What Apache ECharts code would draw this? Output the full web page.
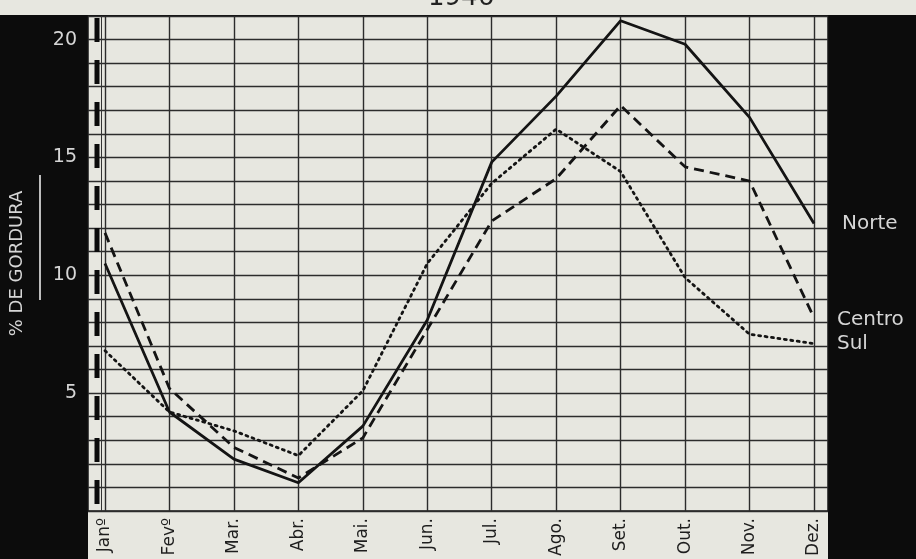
<!DOCTYPE html>
<html>
<head>
<meta charset="utf-8">
<script src="https://cdn.jsdelivr.net/npm/echarts@6/dist/echarts.min.js"></script>
<style>
  html, body { margin: 0; padding: 0; background: #0c0c0c; }
  #main { width: 916px; height: 559px; }
</style>
</head>
<body>
<div id="main"></div>
<script>
var meses = ['Janº', 'Fevº', 'Mar.', 'Abr.', 'Mai.', 'Jun.', 'Jul.', 'Ago.', 'Set.', 'Out.', 'Nov.', 'Dez.'];
var norte  = [10.5, 4.2, 2.2, 1.2, 3.6, 8.1, 14.8, 17.6, 20.8, 19.8, 16.7, 12.2];
var centro = [11.8, 5.2, 2.7, 1.4, 3.1, 7.7, 12.3, 14.1, 17.2, 14.6, 14.0, 8.2];
var sul    = [6.8, 4.2, 3.4, 2.35, 5.1, 10.5, 13.9, 16.2, 14.4, 9.9, 7.5, 7.1];
var rotulosY = [5, 10, 15, 20];

var papel = '#e7e7e0';
var tinta = '#141414';

var myChart = echarts.init(document.getElementById('main'));

var option = {
  backgroundColor: '#0c0c0c',
  animation: false,
  title: {
    text: '1946',
    left: 428,
    top: -15,
    padding: 0,
    textStyle: { color: '#222', fontSize: 26, fontWeight: 'normal', fontFamily: 'DejaVu Sans' }
  },
  graphic: [
    { type: 'rect', z: -5, shape: { x: 0, y: 0, width: 916, height: 15 }, style: { fill: papel } },
    { type: 'rect', z: -5, shape: { x: 88, y: 511, width: 740, height: 48 }, style: { fill: papel } },
    // barra tracejada grossa a esquerda
    { type: 'line', z: 5, shape: { x1: 97, y1: 18, x2: 97, y2: 510 },
      style: { stroke: '#0c0c0c', lineWidth: 5, lineDash: [24, 18] } },
    { type: 'line', z: 5, shape: { x1: 101.5, y1: 16, x2: 101.5, y2: 511 },
      style: { stroke: '#333', lineWidth: 1 } },
    // sublinhado do titulo do eixo
    { type: 'line', shape: { x1: 40, y1: 175, x2: 40, y2: 300 },
      style: { stroke: '#bdbdbd', lineWidth: 2 } }
  ],
  grid: [
    { left: 88, right: 88, top: 16, bottom: 48, show: true, backgroundColor: papel,
      borderColor: tinta, borderWidth: 1.5 },
    { left: 105, right: 102, top: 16, bottom: 48 }
  ],
  xAxis: [
    { gridIndex: 0, type: 'value', min: 0, max: 1, show: false },
    {
      gridIndex: 1,
      type: 'category',
      boundaryGap: false,
      data: meses,
      axisLine: { show: false },
      axisTick: { show: false },
      splitLine: { show: true, lineStyle: { color: '#2c2c2c', width: 1.4 } },
      axisLabel: { interval: 0, rotate: 90, margin: 7, color: '#1e1e1e', fontSize: 17, fontFamily: 'DejaVu Sans' }
    }
  ],
  yAxis: [
    {
      gridIndex: 0,
      type: 'value',
      min: 0,
      max: 21,
      interval: 1,
      name: '% DE GORDURA',
      nameLocation: 'middle',
      nameRotate: 90,
      nameGap: 62,
      nameTextStyle: { color: '#d6d6d6', fontSize: 18, fontFamily: 'DejaVu Sans' },
      axisLine: { show: false },
      axisTick: { show: false },
      splitLine: { show: true, lineStyle: { color: '#2c2c2c', width: 1.4 } },
      axisLabel: {
        margin: 11,
        color: '#d6d6d6',
        fontSize: 19,
        fontFamily: 'DejaVu Sans',
        formatter: function (v) { return rotulosY.indexOf(v) >= 0 ? String(v) : ''; }
      }
    },
    { gridIndex: 1, type: 'value', min: 0, max: 21, show: false }
  ],
  series: [
    {
      name: 'Norte', type: 'line', xAxisIndex: 1, yAxisIndex: 1, data: norte,
      symbol: 'none', lineStyle: { color: tinta, width: 2.8 },
      endLabel: { show: true, formatter: '{a}', distance: 28, color: '#d6d6d6', fontSize: 20, fontFamily: 'DejaVu Sans' }
    },
    {
      name: 'Centro', type: 'line', xAxisIndex: 1, yAxisIndex: 1, data: centro,
      symbol: 'none', lineStyle: { color: tinta, width: 2.8, type: [10, 6] },
      endLabel: { show: true, formatter: '{a}', distance: 23, offset: [0, 2], color: '#d6d6d6', fontSize: 20, fontFamily: 'DejaVu Sans' }
    },
    {
      name: 'Sul', type: 'line', xAxisIndex: 1, yAxisIndex: 1, data: sul,
      symbol: 'none', lineStyle: { color: tinta, width: 2.8, type: [2, 4.5], cap: 'round' },
      endLabel: { show: true, formatter: '{a}', distance: 23, color: '#d6d6d6', fontSize: 20, fontFamily: 'DejaVu Sans' }
    }
  ]
};

myChart.setOption(option);
</script>
</body>
</html>
